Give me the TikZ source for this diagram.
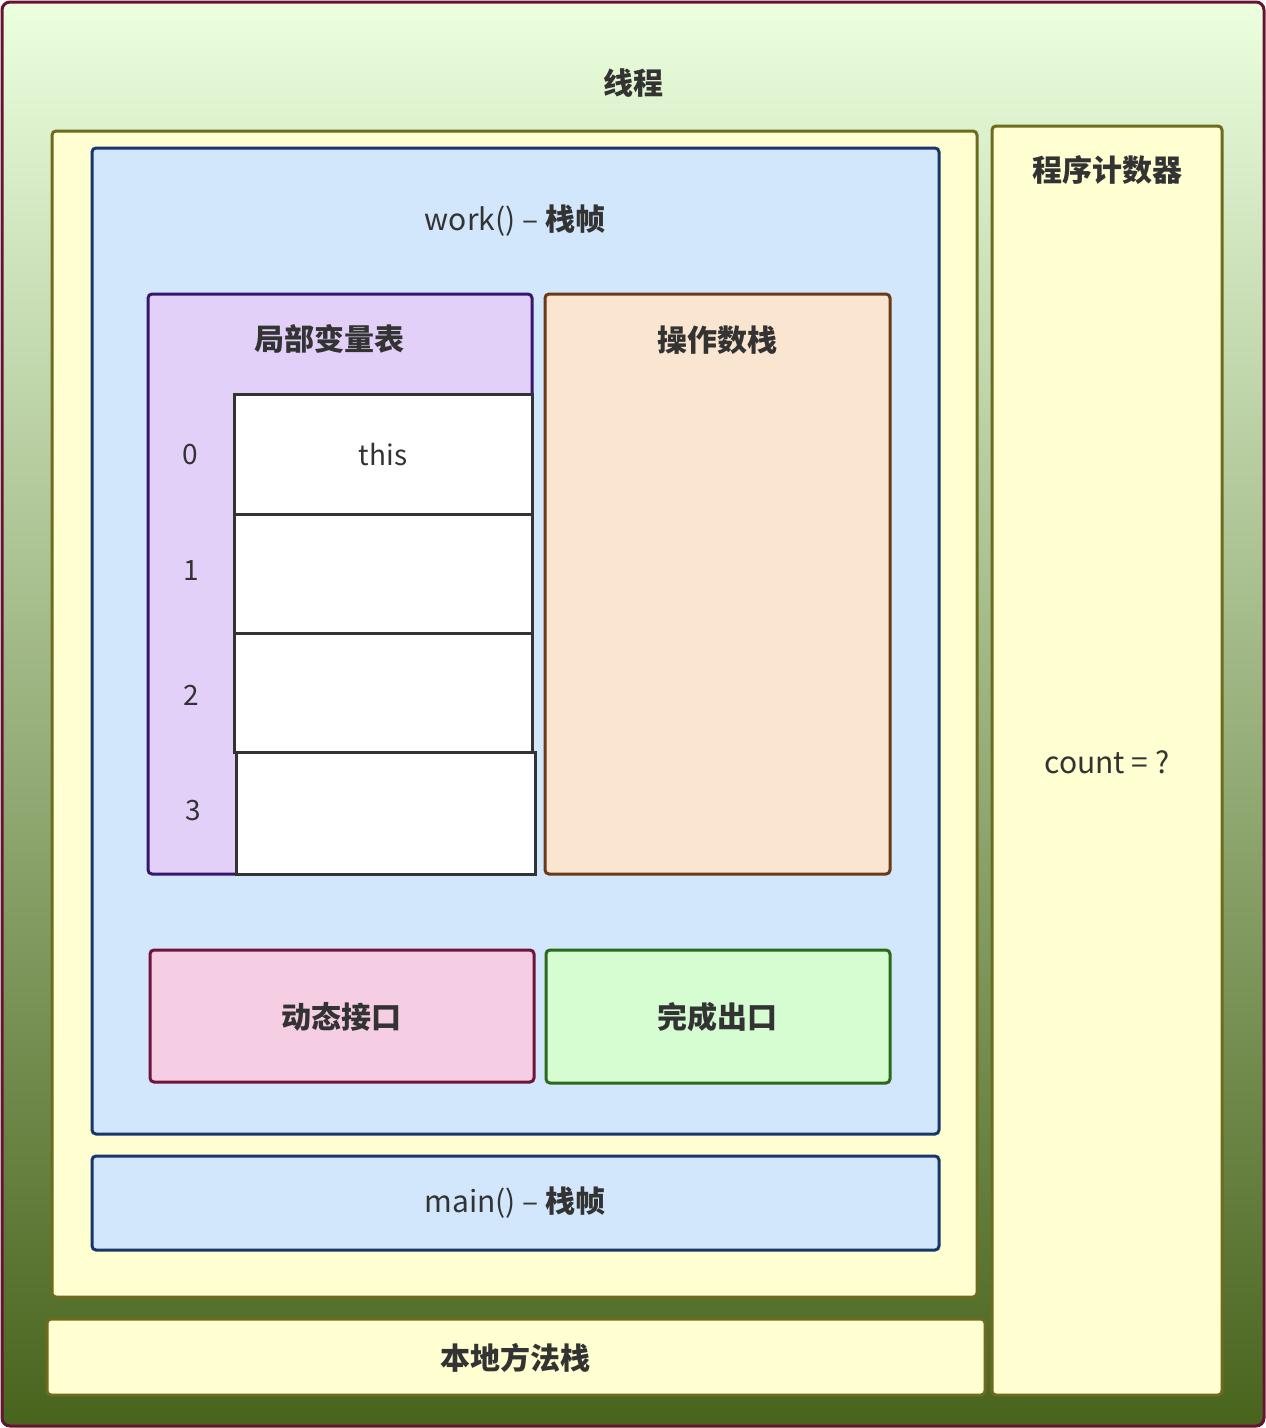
\documentclass[tikz,border=0pt]{standalone}
\usepackage{fontspec}
\setmainfont{Noto Sans CJK SC}
\usetikzlibrary{positioning}
\definecolor{yel}{HTML}{FFFFD2}
\definecolor{olive}{HTML}{6E6A1E}
\definecolor{blu}{HTML}{D2E6FC}
\definecolor{blub}{HTML}{16376A}
\definecolor{pur}{HTML}{E2D0F8}
\definecolor{purb}{HTML}{36166E}
\definecolor{ora}{HTML}{FAE6D0}
\definecolor{orab}{HTML}{6A3A16}
\definecolor{pin}{HTML}{F6CEE4}
\definecolor{pinb}{HTML}{6E163A}
\definecolor{grn}{HTML}{D6FCD2}
\definecolor{grnb}{HTML}{2A6A1A}
\definecolor{txt}{HTML}{333333}
\tikzset{
  box/.style={rounded corners=4pt, line width=3pt},
  lbl/.style={font=\fontsize{30}{34}\selectfont\bfseries, text=txt},
  lbln/.style={font=\fontsize{30}{34}\selectfont, text=txt},
  cell/.style={draw=txt, line width=3pt, fill=white},
}
\begin{document}
\begin{tikzpicture}[x=1pt,y=-1pt]
\useasboundingbox (0,0) rectangle (1266,1428);
\shade[top color=green!8!white!95!yellow, bottom color={rgb,255:red,72;green,100;blue,28}, rounded corners=8pt] (2,2) rectangle (1264,1426);
\draw[draw={rgb,255:red,100;green,20;blue,50}, line width=3pt, rounded corners=8pt] (2,2) rectangle (1264,1426);
\node[lbl] (t) at (633,83) {线程};
\draw[box, fill=yel, draw=olive] (52,131) rectangle (977,1297);
\draw[box, fill=yel, draw=olive] (992,126) rectangle (1222,1395);
\node[lbl] (pc) at (1107,170) {程序计数器};
\node[lbln] (cnt) at (1107,762) {count = ?};
\draw[box, fill=yel, draw=olive] (47,1319) rectangle (985,1395);
\node[lbl] (nm) at (515,1358) {本地方法栈};
\draw[box, fill=blu, draw=blub] (92,148) rectangle (939,1134);
\node[lbln] (wk) at (515,221) {work() – \textbf{栈帧}};
\draw[box, fill=pur, draw=purb] (148,294) rectangle (532,874);
\node[lbl] (lv) at (329,339) {局部变量表};
\draw[cell] (234,394) rectangle (532,514);
\draw[cell] (234,514) rectangle (532,633);
\draw[cell] (234,633) rectangle (532,752);
\draw[cell] (236,752) rectangle (535,874);
\node[lbln, font=\fontsize{28}{32}\selectfont\addfontfeature{FakeBold=0}] (th) at (383,455) {this};
\node[lbln, font=\fontsize{28}{32}\selectfont] (i0) at (190,455) {0};
\node[lbln, font=\fontsize{28}{32}\selectfont] (i1) at (191,571) {1};
\node[lbln, font=\fontsize{28}{32}\selectfont] (i2) at (191,695) {2};
\node[lbln, font=\fontsize{28}{32}\selectfont] (i3) at (193,811) {3};
\draw[box, fill=ora, draw=orab] (545,294) rectangle (890,874);
\node[lbl] (os) at (717,340) {操作数栈};
\draw[box, fill=pin, draw=pinb] (150,950) rectangle (534,1082);
\node[lbl] (dy) at (341,1017) {动态接口};
\draw[box, fill=grn, draw=grnb] (546,950) rectangle (890,1083);
\node[lbl] (ex) at (717,1017) {完成出口};
\draw[box, fill=blu, draw=blub] (92,1156) rectangle (939,1250);
\node[lbln] (mn) at (515,1203) {main() – \textbf{栈帧}};
\end{tikzpicture}
\end{document}
